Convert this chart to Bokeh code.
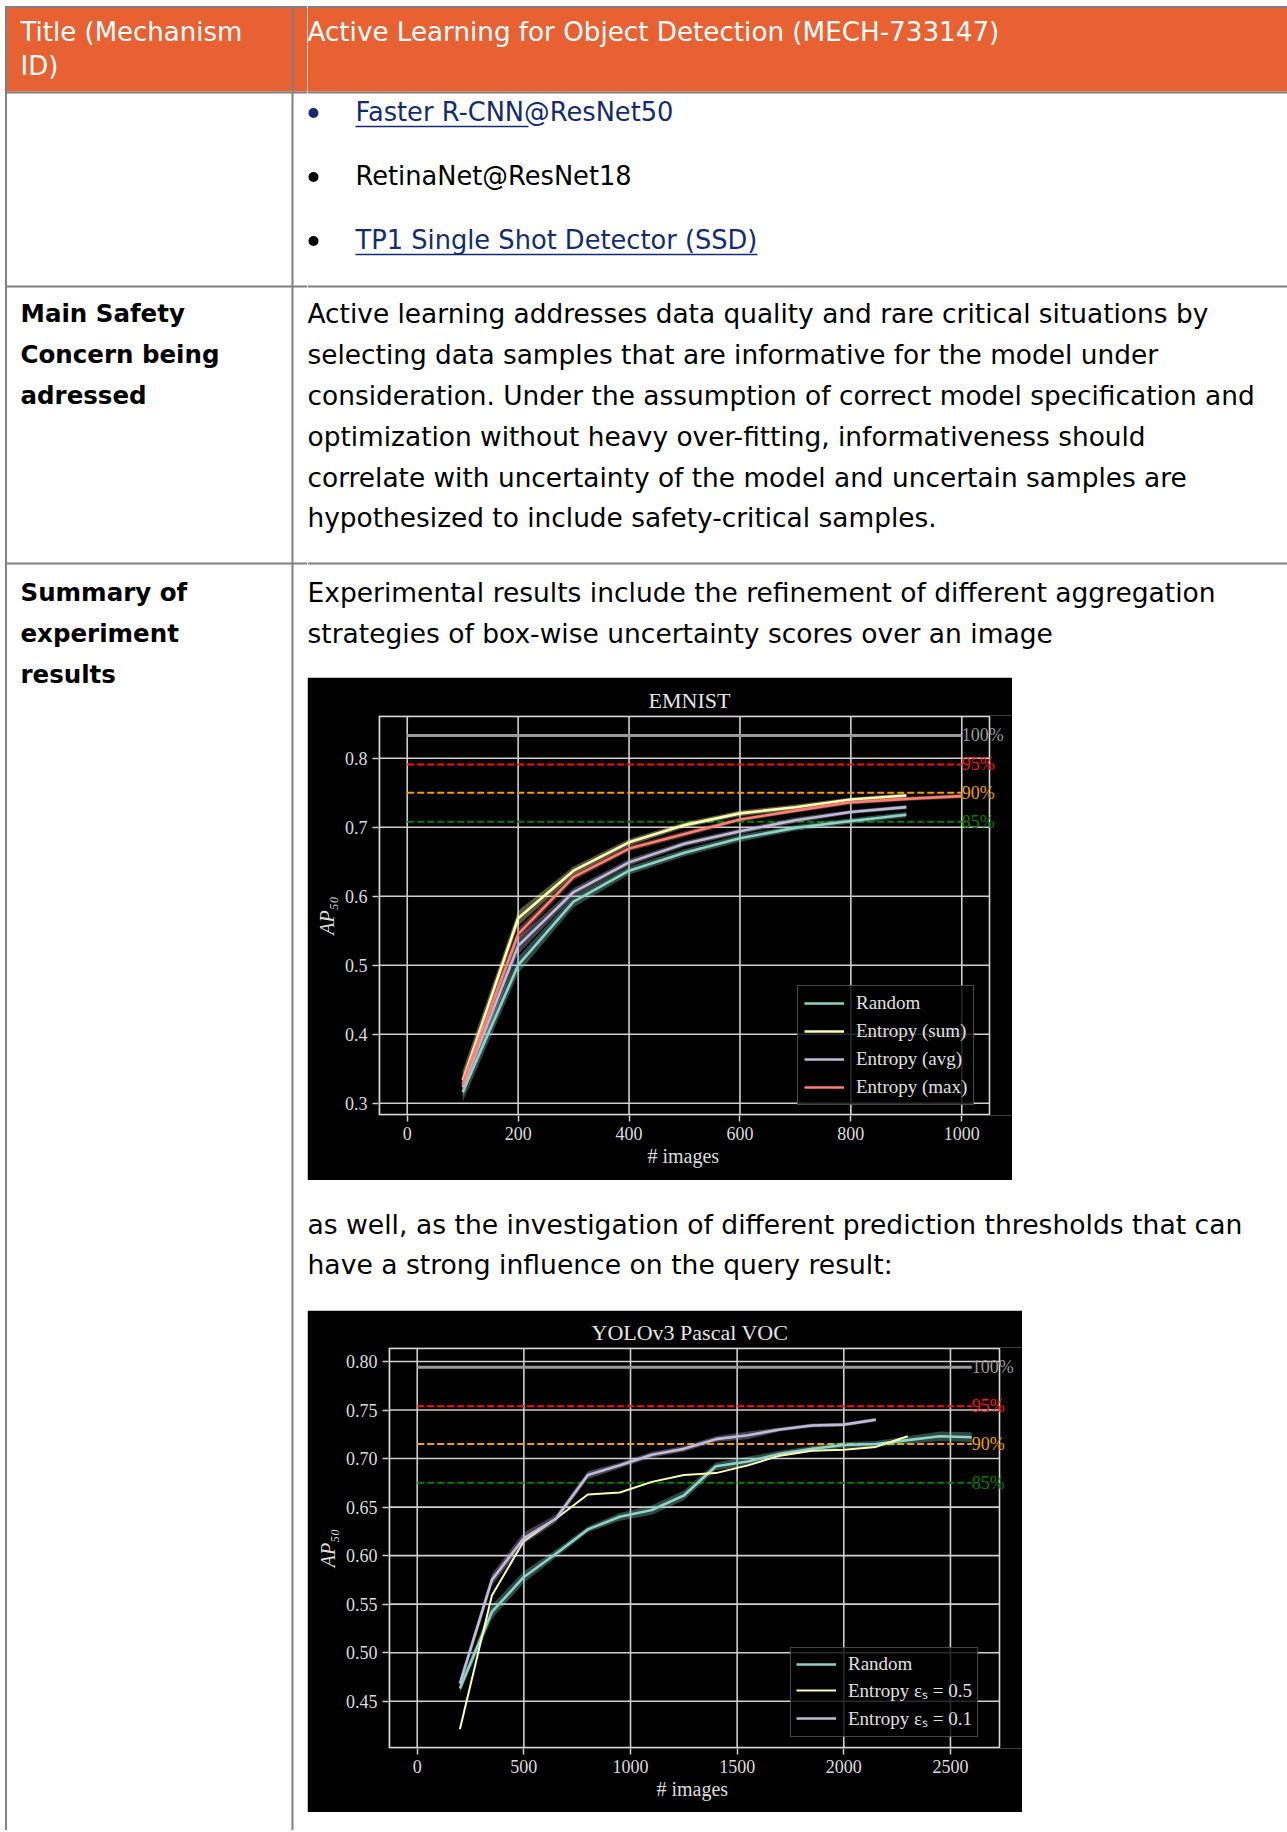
from bokeh.plotting import figure
from bokeh.layouts import row, column
from bokeh.models import Range1d, FixedTicker, Spacer, NumeralTickFormatter, Title
from bokeh.core.properties import value
from bokeh.embed import file_html
from bokeh.resources import INLINE

# ---------------- table texts ----------------
header_left = ["Title (Mechanism", "ID)"]
header_right = ["Active Learning for Object Detection (MECH-733147)"]
method_items = ["Faster R-CNN@ResNet50", "RetinaNet@ResNet18", "TP1 Single Shot Detector (SSD)"]
method_is_link = [True, False, True]
bullet_is_navy = [True, False, False]
concern_label = ["Main Safety", "Concern being", "adressed"]
concern_text = [
    "Active learning addresses data quality and rare critical situations by",
    "selecting data samples that are informative for the model under",
    "consideration. Under the assumption of correct model specification and",
    "optimization without heavy over-fitting, informativeness should",
    "correlate with uncertainty of the model and uncertain samples are",
    "hypothesized to include safety-critical samples.",
]
summary_label = ["Summary of", "experiment", "results"]
summary_intro = [
    "Experimental results include the refinement of different aggregation",
    "strategies of box-wise uncertainty scores over an image",
]
summary_between = [
    "as well, as the investigation of different prediction thresholds that can",
    "have a strong influence on the query result:",
]

# ---------------- EMNIST chart data ----------------
emnist_title = "EMNIST"
emnist_x = [100, 200, 300, 400, 500, 600, 700, 800, 900]
emnist_x_max = [100, 200, 300, 400, 500, 600, 700, 800, 900, 1000]
emnist_random = [0.316, 0.500, 0.592, 0.637, 0.663, 0.684, 0.699, 0.709, 0.718]
emnist_sum = [0.333, 0.568, 0.637, 0.678, 0.703, 0.720, 0.729, 0.740, 0.746]
emnist_avg = [0.323, 0.528, 0.606, 0.649, 0.676, 0.694, 0.710, 0.722, 0.729]
emnist_max = [0.328, 0.545, 0.628, 0.669, 0.690, 0.711, 0.724, 0.736, 0.741, 0.745]
emnist_sd_random = [0.014, 0.012, 0.008, 0.006, 0.005, 0.005, 0.004, 0.004, 0.004]
emnist_sd_sum = [0.014, 0.011, 0.006, 0.005, 0.004, 0.004, 0.004, 0.003, 0.003]
emnist_sd_avg = [0.014, 0.012, 0.006, 0.005, 0.004, 0.004, 0.004, 0.003, 0.003]
emnist_sd_max = [0.012, 0.008, 0.005, 0.004, 0.004, 0.003, 0.003, 0.003, 0.003, 0.003]
emnist_labels = ["Random", "Entropy (sum)", "Entropy (avg)", "Entropy (max)"]
emnist_ref_values = [0.833, 0.791, 0.750, 0.708]
emnist_ref_labels = ["100%", "95%", "90%", "85%"]
emnist_ref_span = [0, 1000]
emnist_xticks = [0, 200, 400, 600, 800, 1000]
emnist_yticks = [0.3, 0.4, 0.5, 0.6, 0.7, 0.8]
emnist_xlim = [-50, 1050]
emnist_ylim = [0.2836, 0.8604]

# ---------------- YOLOv3 Pascal VOC chart data ----------------
yolo_title = "YOLOv3 Pascal VOC"
yolo_x_random = [200, 350, 500, 650, 800, 950, 1100, 1250, 1400, 1550, 1700, 1850, 2000, 2150, 2300, 2450, 2600]
yolo_x_e05 = [200, 350, 500, 650, 800, 950, 1100, 1250, 1400, 1550, 1700, 1850, 2000, 2150, 2300]
yolo_x_e01 = [200, 350, 500, 650, 800, 950, 1100, 1250, 1400, 1550, 1700, 1850, 2000, 2150]
yolo_random = [0.463, 0.542, 0.578, 0.602, 0.627, 0.640, 0.647, 0.662, 0.692, 0.697, 0.705, 0.710, 0.714, 0.715, 0.719, 0.723, 0.722]
yolo_e05 = [0.421, 0.559, 0.615, 0.638, 0.663, 0.665, 0.676, 0.683, 0.685, 0.693, 0.703, 0.708, 0.709, 0.712, 0.723]
yolo_e01 = [0.468, 0.575, 0.618, 0.638, 0.683, 0.693, 0.704, 0.710, 0.720, 0.724, 0.730, 0.734, 0.735, 0.740]
yolo_sd_random = [0.005, 0.007, 0.006, 0.004, 0.003, 0.004, 0.005, 0.005, 0.004, 0.005, 0.003, 0.003, 0.003, 0.003, 0.004, 0.005, 0.005]
yolo_sd_e01 = [0.006, 0.006, 0.006, 0.004, 0.004, 0.003, 0.003, 0.003, 0.003, 0.004, 0.002, 0.002, 0.002, 0.002]
yolo_labels = ["Random", "Entropy \u03b5\u209b = 0.5", "Entropy \u03b5\u209b = 0.1"]
yolo_ref_values = [0.794, 0.754, 0.715, 0.675]
yolo_ref_labels = ["100%", "95%", "90%", "85%"]
yolo_ref_span = [0, 2600]
yolo_xticks = [0, 500, 1000, 1500, 2000, 2500]
yolo_yticks = [0.45, 0.50, 0.55, 0.60, 0.65, 0.70, 0.75, 0.80]
yolo_xlim = [-130, 2730]
yolo_ylim = [0.4023, 0.8134]

axis_x_label = "# images"
axis_y_label = "AP\u2085\u2080"

# ---------------- styling ----------------
ORANGE = "#E86132"
RULE = "#808080"
NAVY = "#142B6F"
BODY_FONT = "DejaVu Sans"
SERIF = "Liberation Serif"
SERIES = ["#8dd3c7", "#feffb3", "#bfbbd9", "#fa8174"]
REF_COLORS = ["#9a9a9a", "#ff1010", "#f0a000", "#008000"]
CHART_TEXT = "#dcdcdc"
PAGE_H = 1830


def page_fig(x0, x1, y0, y1):
    return figure(width=x1 - x0, height=y1 - y0,
                  x_range=Range1d(x0, x1), y_range=Range1d(y1, y0),
                  x_axis_type=None, y_axis_type=None,
                  output_backend="svg", toolbar_location=None, min_border=0,
                  outline_line_color=None, background_fill_color="white",
                  border_fill_color="white")


def put_lines(p, x, ys, lines, size, color="#000000", bold=False):
    p.text(x=[x] * len(lines), y=ys, text=lines,
           text_font=value(BODY_FONT), text_font_size=value(size),
           text_font_style="bold" if bold else "normal",
           text_color=color, text_baseline="middle", text_align="left")


def table_rules(p, x0, x1):
    p.quad(left=[x0], right=[x1], top=[7.5], bottom=[91], fill_color=ORANGE, line_color=None)
    p.segment(x0=[x0] * 4, x1=[x1] * 4, y0=[6.5, 92, 286, 563], y1=[6.5, 92, 286, 563],
              line_color=RULE, line_width=2)


# ---------------- left column ----------------
left = page_fig(0, 307, 0, PAGE_H)
table_rules(left, 5, 307)
left.segment(x0=[5.5, 292], x1=[5.5, 292], y0=[5.5, 5.5], y1=[PAGE_H, PAGE_H], line_color=RULE, line_width=2)
put_lines(left, 20, [31, 65], header_left, "26px", color="white")
put_lines(left, 20, [313, 354, 395], concern_label, "24.5px", bold=True)
put_lines(left, 20, [592, 633, 674], summary_label, "24.5px", bold=True)

# ---------------- right column: top ----------------
top = page_fig(307, 1287, 0, 677)
table_rules(top, 307, 1287)
put_lines(top, 307, [31], header_right, "26.2px", color="white")
item_y = [111, 175, 239]
for yy, txt, link, navy_dot in zip(item_y, method_items, method_is_link, bullet_is_navy):
    top.scatter(x=[313], y=[yy + 1.5], size=10, marker="circle",
                fill_color=NAVY if navy_dot else "#000000", line_color=None)
    put_lines(top, 355, [yy], [txt], "25.7px", color=NAVY if link else "#000000")
# underlines of the hyperlinks
top.segment(x0=[355, 355], x1=[528, 757], y0=[126, 254], y1=[126, 254], line_color=NAVY, line_width=1.5)
put_lines(top, 307, [313, 354, 395, 436, 477, 517], concern_text, "26.4px")
put_lines(top, 307, [592, 633], summary_intro, "26.5px")

mid = page_fig(307, 1287, 1180, 1310)
put_lines(mid, 307, [1224, 1264], summary_between, "26.6px")


# ---------------- charts ----------------
def chart(width, height, bl, bt, bb, box_w, xlim, ylim, title, title_off, xlab_off,
          xticks, yticks, yfmt):
    # frame reaches the right edge of the figure so that the percent labels are not cut;
    # the matplotlib-like axes box is drawn inside it (1px inset)
    fw = width - bl
    fh = height - bt - bb
    ux = (xlim[1] - xlim[0]) / (box_w - 1)
    x0 = xlim[0] - ux
    uy = (ylim[1] - ylim[0]) / (fh - 2)
    y0 = ylim[0] - uy
    p = figure(width=width, height=height,
               x_range=Range1d(x0, x0 + fw * ux), y_range=Range1d(y0, y0 + fh * uy),
               output_backend="svg", toolbar_location=None,
               min_border_left=bl, min_border_right=0,
               min_border_top=bt, min_border_bottom=bb,
               background_fill_color="black", border_fill_color="black",
               outline_line_color=None)
    p.grid.visible = False
    p.title.text = title
    p.title.align = "left"
    p.title.offset = title_off
    p.title.text_font = SERIF
    p.title.text_font_size = "22px"
    p.title.text_font_style = "normal"
    p.title.text_color = "#e6e6e6"
    p.title.standoff = 6
    p.xaxis.ticker = FixedTicker(ticks=xticks)
    p.yaxis.ticker = FixedTicker(ticks=yticks)
    p.yaxis.formatter = NumeralTickFormatter(format=yfmt)
    for ax in (p.xaxis, p.yaxis):
        ax.axis_line_color = None
        ax.major_tick_line_color = "#d0d0d0"
        ax.major_tick_line_width = 1.5
        ax.major_tick_out = 6
        ax.major_tick_in = 0
        ax.minor_tick_line_color = None
        ax.major_label_text_font = SERIF
        ax.major_label_text_font_size = "18px"
        ax.major_label_text_color = CHART_TEXT
        ax.major_label_standoff = 5
    p.yaxis.axis_label = axis_y_label
    p.yaxis.axis_label_text_font = SERIF
    p.yaxis.axis_label_text_font_size = "20px"
    p.yaxis.axis_label_text_font_style = "italic"
    p.yaxis.axis_label_text_color = CHART_TEXT
    p.yaxis.axis_label_standoff = 4
    p.add_layout(Title(text=axis_x_label, align="left", offset=xlab_off,
                       text_font=SERIF, text_font_size="20px", text_font_style="normal",
                       text_color=CHART_TEXT, standoff=0), "below")
    # grid lines and axes box
    n, m = len(yticks), len(xticks)
    p.segment(x0=[xlim[0]] * n, x1=[xlim[1]] * n, y0=yticks, y1=yticks,
              line_color="#cfcfcf", line_width=1.6)
    p.segment(x0=xticks, x1=xticks, y0=[ylim[0]] * m, y1=[ylim[1]] * m,
              line_color="#cfcfcf", line_width=1.6)
    p.quad(left=[xlim[0]], right=[xlim[1]], bottom=[ylim[0]], top=[ylim[1]],
           fill_color=None, line_color="#d9d9d9", line_width=1.6)
    return p


def ref_lines(p, span, vals, labels):
    for i, v in enumerate(vals):
        if i == 0:
            p.line(span, [v, v], line_color=REF_COLORS[i], line_width=3)
        else:
            p.line(span, [v, v], line_color=REF_COLORS[i], line_width=2, line_dash="7 3")
    p.text(x=[span[1]] * len(vals), y=vals, text=labels, text_color=REF_COLORS,
           text_font=value(SERIF), text_font_size=value("18px"),
           text_baseline="middle", text_align="left")


def series(p, x, y, sd, color, label, lw=2.6):
    if sd is not None:
        lo = [a - b for a, b in zip(y, sd)]
        hi = [a + b for a, b in zip(y, sd)]
        p.varea(x=x, y1=lo, y2=hi, fill_color=color, fill_alpha=0.35)
    p.line(x, y, line_color=color, line_width=lw, legend_label=label)


def style_legend(p, loc, spacing, padding):
    lg = p.legend[0]
    lg.location = loc
    lg.label_text_font = SERIF
    lg.label_text_font_size = "19px"
    lg.label_text_color = "#e0e0e0"
    lg.background_fill_color = "black"
    lg.background_fill_alpha = 0.8
    lg.border_line_color = "#8c8c8c"
    lg.border_line_width = 1.5
    lg.glyph_width = 40
    lg.glyph_height = 20
    lg.label_height = 20
    lg.label_standoff = 12
    lg.spacing = spacing
    lg.padding = padding


p1 = chart(705, 503, 71, 38, 65, 611, emnist_xlim, emnist_ylim, emnist_title, 270, 269,
           emnist_xticks, emnist_yticks, "0.0")
ref_lines(p1, emnist_ref_span, emnist_ref_values, emnist_ref_labels)
series(p1, emnist_x, emnist_random, emnist_sd_random, SERIES[0], emnist_labels[0])
series(p1, emnist_x, emnist_sum, emnist_sd_sum, SERIES[1], emnist_labels[1])
series(p1, emnist_x, emnist_avg, emnist_sd_avg, SERIES[2], emnist_labels[2])
series(p1, emnist_x_max, emnist_max, emnist_sd_max, SERIES[3], emnist_labels[3])
style_legend(p1, (419, 10), 6, 6)

p2 = chart(715, 502, 81, 37, 64, 611, yolo_xlim, yolo_ylim, yolo_title, 203, 268,
           yolo_xticks, yolo_yticks, "0.00")
ref_lines(p2, yolo_ref_span, yolo_ref_values, yolo_ref_labels)
series(p2, yolo_x_random, yolo_random, yolo_sd_random, SERIES[0], yolo_labels[0])
series(p2, yolo_x_e05, yolo_e05, None, SERIES[1], yolo_labels[1], lw=2.0)
series(p2, yolo_x_e01, yolo_e01, yolo_sd_e01, SERIES[2], yolo_labels[2])
style_legend(p2, (402, 11), 2, 5)

right_col = column(
    top,
    row(p1, Spacer(width=275, height=503)),
    mid,
    row(p2, Spacer(width=265, height=502)),
    Spacer(width=980, height=PAGE_H - 1812),
)
page = row(left, right_col)

open("out.html", "w").write(file_html(page, INLINE))
